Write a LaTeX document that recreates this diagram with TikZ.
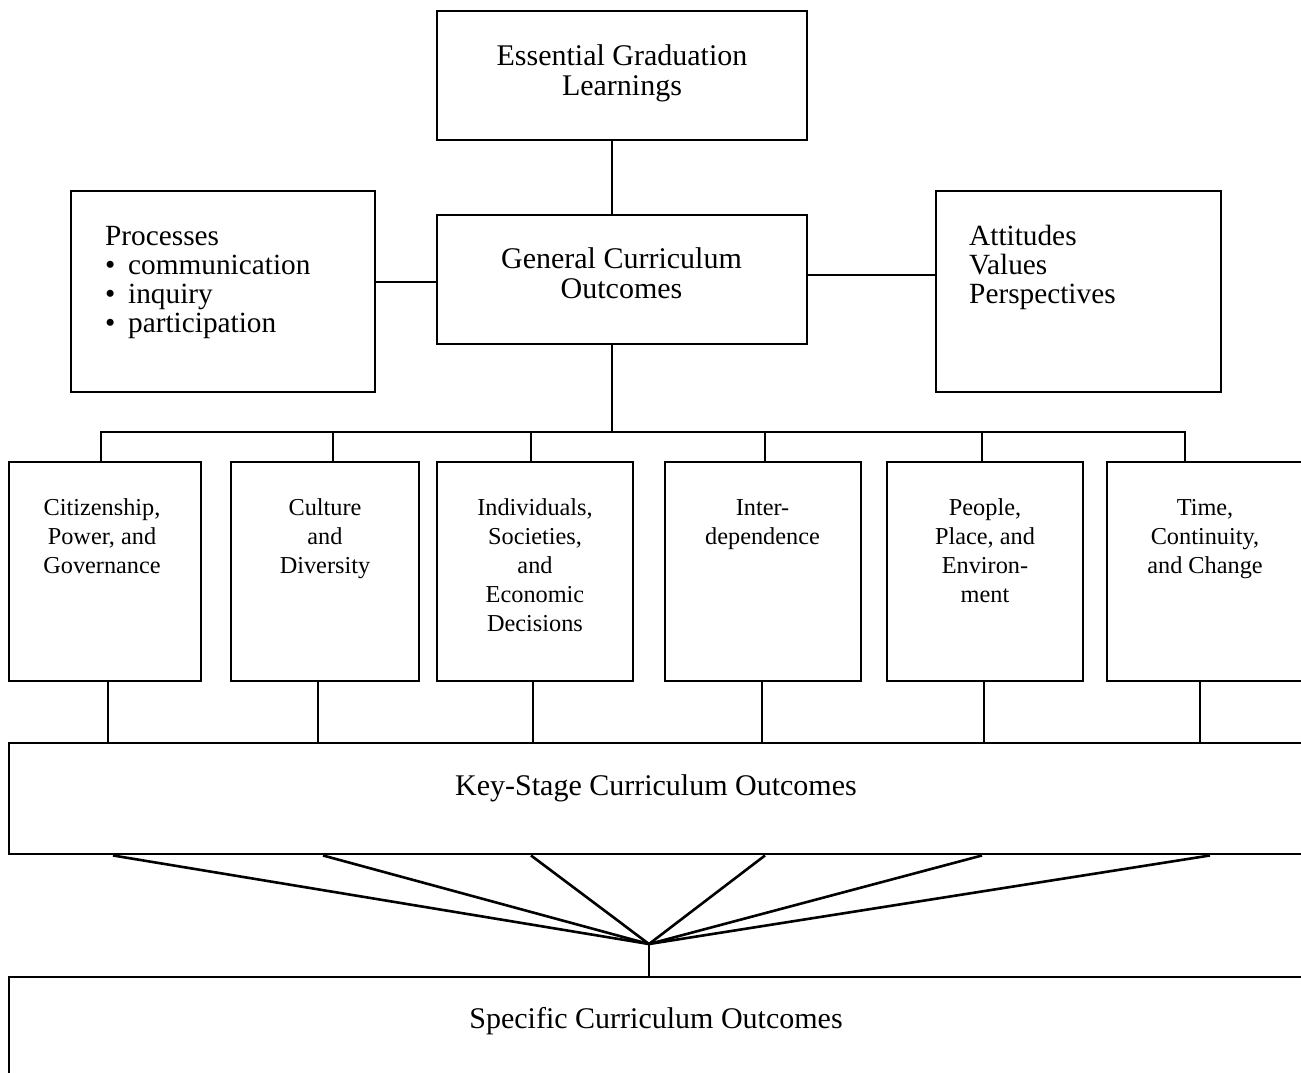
\documentclass[tikz,border=0pt]{standalone}
\usepackage{fontspec}
\setmainfont{Liberation Serif}
\usetikzlibrary{fit}
\newcommand\fntA{\fontsize{30}{30}\selectfont}
\newcommand\fntB{\fontsize{29.3}{29}\selectfont}
\newcommand\fntC{\fontsize{24.3}{29}\selectfont}
\newcommand\mystrut{\rule{0pt}{.8em}}
\newcommand\mybul{\makebox[23pt][l]{\textbullet}}
\tikzset{
  box/.style={draw, line width=2.9pt, inner sep=0pt, fit={#1}},
  conn/.style={draw, line width=2.6pt},
  lbl/.style={inner sep=0pt, anchor=north, align=center},
  lbll/.style={inner sep=0pt, anchor=north west, align=left},
}
\begin{document}
\begin{tikzpicture}[x=1pt,y=-1pt]
\useasboundingbox (0,0) rectangle (1301,1072);
\clip (0,0) rectangle (1301,1072);
% boxes
\node[box={(437,11) (807,140)}] (egl) {};
\node[box={(437,215) (807,344)}] (gco) {};
\node[box={(71,191) (375,392)}] (proc) {};
\node[box={(936,191) (1221,392)}] (att) {};
\node[box={(9,462) (201,681)}] (b1) {};
\node[box={(231,462) (419,681)}] (b2) {};
\node[box={(437,462) (633,681)}] (b3) {};
\node[box={(665,462) (861,681)}] (b4) {};
\node[box={(887,462) (1083,681)}] (b5) {};
\node[box={(1107,462) (1330,681)}] (b6) {};
\node[box={(9,743) (1330,854)}] (ks) {};
\node[box={(9,977) (1330,1100)}] (sco) {};
% labels
\node[lbl, font=\fntA] (eglt) at (622,41) {\mystrut Essential Graduation\\Learnings};
\node[lbl, font=\fntA] (gcot) at (621.5,244) {\mystrut General Curriculum\\Outcomes};
\node[lbll, font=\fntB] (proct) at (105,221.6) {\mystrut Processes\\\mybul communication\\\mybul inquiry\\\mybul participation};
\node[lbll, font=\fntB] (attt) at (969,221.6) {\mystrut Attitudes\\Values\\Perspectives};
\node[lbl, font=\fntC] (b1t) at (102,495.6) {\mystrut Citizenship,\\Power, and\\Governance};
\node[lbl, font=\fntC] (b2t) at (325,495.6) {\mystrut Culture\\and\\Diversity};
\node[lbl, font=\fntC] (b3t) at (535,495.6) {\mystrut Individuals,\\Societies,\\and\\Economic\\Decisions};
\node[lbl, font=\fntC] (b4t) at (762.5,495.6) {\mystrut Inter-\\dependence};
\node[lbl, font=\fntC] (b5t) at (985,495.6) {\mystrut People,\\Place, and\\Environ-\\ment};
\node[lbl, font=\fntC] (b6t) at (1205,495.6) {\mystrut Time,\\Continuity,\\and Change};
\node[lbl, font=\fntA] (kst) at (656,771) {\mystrut Key-Stage Curriculum Outcomes};
\node[lbl, font=\fntA] (scot) at (656,1004) {\mystrut Specific Curriculum Outcomes};
% connectors
\coordinate (bus) at (612,432);
\coordinate (apex) at (649,944);
\draw[conn] (egl.south -| 612,0) -- (gco.north -| 612,0);
\draw[conn] (proc.east |- 0,282) -- (gco.west |- 0,282);
\draw[conn] (gco.east |- 0,275) -- (att.west |- 0,275);
\draw[conn] (gco.south -| bus) -- (bus);
\draw[conn] (b1.north -| 101,0) -- (101,432) -- (1185,432) -- (b6.north -| 1185,0);
\draw[conn] (bus -| 333,0) -- (b2.north -| 333,0);
\draw[conn] (bus -| 531,0) -- (b3.north -| 531,0);
\draw[conn] (bus -| 765,0) -- (b4.north -| 765,0);
\draw[conn] (bus -| 982,0) -- (b5.north -| 982,0);
\draw[conn] (b1.south -| 108,0) -- (ks.north -| 108,0);
\draw[conn] (b2.south -| 318,0) -- (ks.north -| 318,0);
\draw[conn] (b3.south -| 533,0) -- (ks.north -| 533,0);
\draw[conn] (b4.south -| 762,0) -- (ks.north -| 762,0);
\draw[conn] (b5.south -| 984,0) -- (ks.north -| 984,0);
\draw[conn] (b6.south -| 1200,0) -- (ks.north -| 1200,0);
\draw[conn] (ks.south -| 113,0) -- (apex);
\draw[conn] (ks.south -| 323,0) -- (apex);
\draw[conn] (ks.south -| 531,0) -- (apex);
\draw[conn] (ks.south -| 765,0) -- (apex);
\draw[conn] (ks.south -| 982,0) -- (apex);
\draw[conn] (ks.south -| 1210,0) -- (apex);
\draw[conn] (apex) -- (sco.north -| apex);
\end{tikzpicture}
\end{document}
